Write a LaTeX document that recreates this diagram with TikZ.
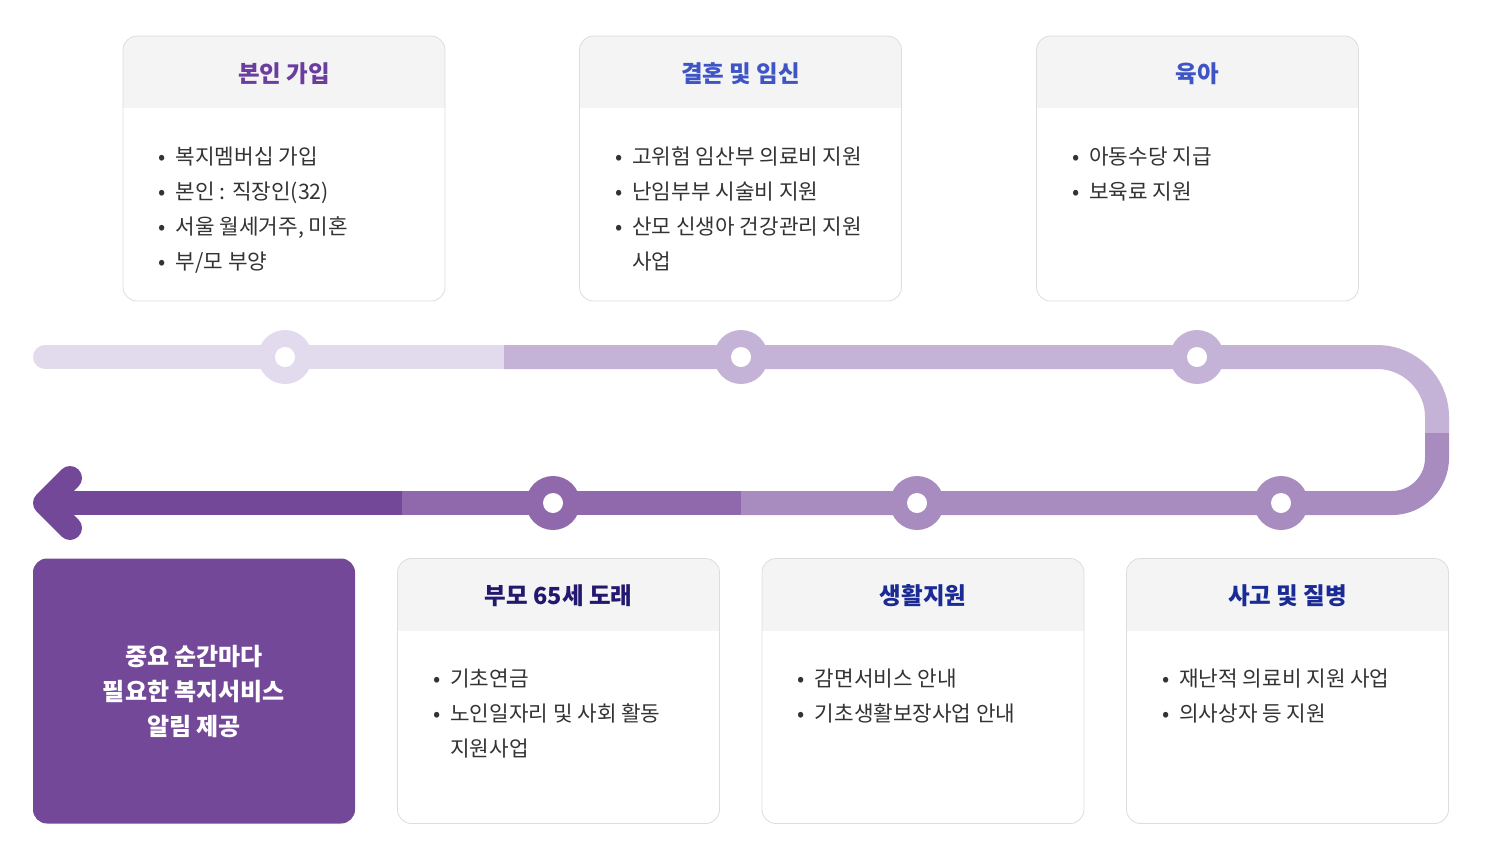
\documentclass[tikz,border=0pt]{standalone}
\usepackage{fontspec}
\setmainfont{Noto Sans CJK KR}
\usepackage{xcolor}
\usepackage{tikz}
\usetikzlibrary{positioning}
\definecolor{trackA}{HTML}{E2DBED}
\definecolor{trackB}{HTML}{C4B3D7}
\definecolor{trackC}{HTML}{A98CBF}
\definecolor{trackD}{HTML}{8F69AB}
\definecolor{trackE}{HTML}{734899}
\definecolor{hdrgray}{HTML}{F4F4F5}
\definecolor{boxline}{HTML}{DDDDDD}
\definecolor{bodytext}{HTML}{333333}
\definecolor{ttlpurple}{HTML}{6A3D9E}
\definecolor{ttlblue}{HTML}{3F55C6}
\definecolor{ttlnavy}{HTML}{22186E}
\definecolor{ttldeep}{HTML}{1B2B95}
\newcommand{\bul}{\makebox[17pt][l]{•}}
\newcommand{\ind}{\makebox[17pt][l]{}}

\begin{document}
\begin{tikzpicture}[x=1pt, y=-1pt,
    card/.style={draw=boxline, line width=0.8pt, rounded corners=14pt, fill=white,
      minimum width=322pt, minimum height=265pt, inner sep=0pt,
      path picture={\fill[hdrgray, sharp corners] (path picture bounding box.north west)
        rectangle ([yshift=-72pt]path picture bounding box.north east);}},
    ttl/.style={font=\fontsize{23.5}{26}\selectfont\bfseries, text=#1},
    body/.style={font=\fontsize{21.3}{35}\selectfont, text=bodytext, align=left,
      anchor=north west, inner sep=0pt},
    dot/.style={circle, fill=#1, minimum size=54pt, inner sep=0pt,
      path picture={\fill[white] (path picture bounding box.center) circle (10pt);}},
    trk/.style={line width=24pt, draw=#1}]
  \useasboundingbox (0,0) rectangle (1496,844);

  % top cards
  \node[card] (b1) at (284,168.5) {};
  \node[card] (b2) at (740.5,168.5) {};
  \node[card] (b3) at (1197.5,168.5) {};
  \node[ttl=ttlpurple] (t1) at ([yshift=-38pt]b1.north) {본인 가입};
  \node[ttl=ttlblue] (t2) at ([yshift=-38pt]b2.north) {결혼 및 임신};
  \node[ttl=ttlblue] (t3) at ([yshift=-38pt]b3.north) {육아};
  \node[body] (l1) at ([xshift=36pt,yshift=-111pt]b1.north west)
    {\bul 복지멤버십 가입\\ \bul 본인 : 직장인(32)\\ \bul 서울 월세거주, 미혼\\ \bul 부/모 부양};
  \node[body] (l2) at ([xshift=36pt,yshift=-111pt]b2.north west)
    {\bul 고위험 임산부 의료비 지원\\ \bul 난임부부 시술비 지원\\ \bul 산모 신생아 건강관리 지원\\ \ind 사업};
  \node[body] (l3) at ([xshift=36pt,yshift=-111pt]b3.north west)
    {\bul 아동수당 지급\\ \bul 보육료 지원};

  % bottom cards
  \node[fill=trackE, rounded corners=14pt, minimum width=322pt, minimum height=265pt,
    inner sep=0pt] (b4) at (194,691) {};
  \node[font=\fontsize{24}{35}\selectfont\bfseries, text=white, align=center] (m4) at (b4.center)
    {중요 순간마다\\ 필요한 복지서비스\\ 알림 제공};
  \node[card] (b5) at (558.5,691) {};
  \node[card] (b6) at (923,691) {};
  \node[card] (b7) at (1287.5,691) {};
  \node[ttl=ttlnavy] (t5) at ([yshift=-38pt]b5.north) {부모 65세 도래};
  \node[ttl=ttldeep] (t6) at ([yshift=-38pt]b6.north) {생활지원};
  \node[ttl=ttldeep] (t7) at ([yshift=-38pt]b7.north) {사고 및 질병};
  \node[body] (l5) at ([xshift=36pt,yshift=-111pt]b5.north west)
    {\bul 기초연금\\ \bul 노인일자리 및 사회 활동\\ \ind 지원사업};
  \node[body] (l6) at ([xshift=36pt,yshift=-111pt]b6.north west)
    {\bul 감면서비스 안내\\ \bul 기초생활보장사업 안내};
  \node[body] (l7) at ([xshift=36pt,yshift=-111pt]b7.north west)
    {\bul 재난적 의료비 지원 사업\\ \bul 의사상자 등 지원};

  % track
  \coordinate (a0) at (45,357);
  \coordinate (a1) at (504,357);
  \coordinate (a2) at (1437,433);
  \coordinate (c1) at (741,503);
  \coordinate (c2) at (402,503);
  \coordinate (c3) at (45,503);
  \coordinate (h1) at (70,478);
  \coordinate (h2) at (70,528);
  \draw[trk=trackA, line cap=round] (a0) -- (a1);
  \draw[trk=trackB, rounded corners=60pt] (a1) -| (a2);
  \draw[trk=trackC, rounded corners=45pt] (a2) |- (c1);
  \draw[trk=trackD] (c1) -- (c2);
  \draw[trk=trackE] (c2) -- (c3);
  \draw[trk=trackE, line cap=round, line join=round] (h1) -- (c3) -- (h2);

  % stops
  \node[dot=trackA] (d1) at (285,357) {};
  \node[dot=trackB] (d2) at (741,357) {};
  \node[dot=trackB] (d3) at (1197,357) {};
  \node[dot=trackD] (d4) at (553,503) {};
  \node[dot=trackC] (d5) at (917,503) {};
  \node[dot=trackC] (d6) at (1281,503) {};
\end{tikzpicture}
\end{document}
